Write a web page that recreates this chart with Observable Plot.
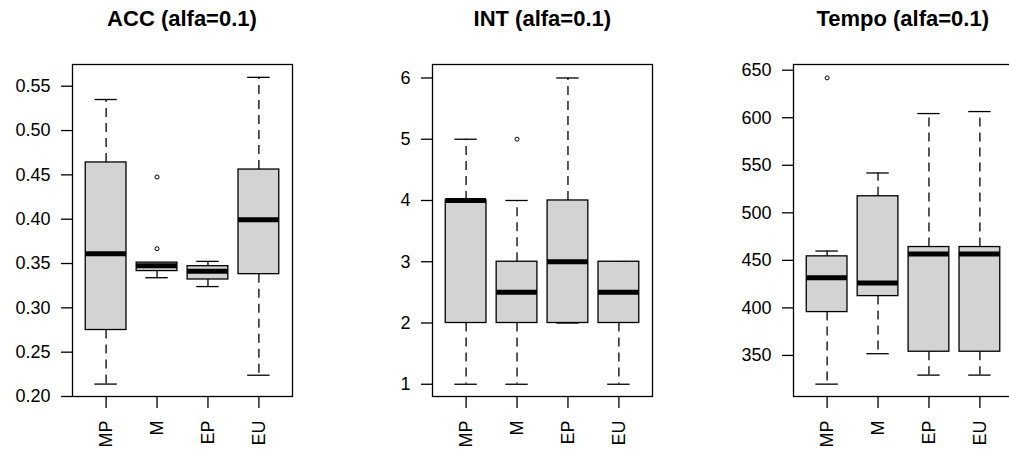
<!DOCTYPE html>
<html><head><meta charset="utf-8">
<script src="https://cdn.jsdelivr.net/npm/d3@7"></script>
<script src="https://cdn.jsdelivr.net/npm/@observablehq/plot@0.6"></script>
<style>
html,body{margin:0;padding:0;background:#fff;overflow:hidden;width:1009px;height:451px;}
#chart{position:relative;width:1009px;height:451px;overflow:hidden;font-family:"Liberation Sans",Arial,sans-serif;}
.panel{position:absolute;top:0;}
.title{position:absolute;top:8px;width:300px;font-weight:bold;font-size:22px;line-height:22px;text-align:center;white-space:nowrap;color:#000;}
</style></head><body><div id="chart"></div>
<script>
const groups = ["MP", "M", "EP", "EU"];
const titles = ["ACC (alfa=0.1)", "INT (alfa=0.1)", "Tempo (alfa=0.1)"];

// ACC
const accLow  = [0.214, 0.334, 0.324, 0.224];
const accQ1   = [0.275, 0.3415, 0.332, 0.338];
const accMed  = [0.361, 0.3475, 0.3414, 0.3995];
const accQ3   = [0.464, 0.351, 0.347, 0.456];
const accHigh = [0.535, 0.351, 0.3524, 0.560];
const accOutGroup = ["M", "M"];
const accOutValue = [0.4476, 0.3667];
const accTicks = [0.20, 0.25, 0.30, 0.35, 0.40, 0.45, 0.50, 0.55];

// INT
const intLow  = [1, 1, 2, 1];
const intQ1   = [2, 2, 2, 2];
const intMed  = [4, 2.5, 3, 2.5];
const intQ3   = [4, 3, 4, 3];
const intHigh = [5, 4, 6, 3];
const intOutGroup = ["M"];
const intOutValue = [5];
const intTicks = [1, 2, 3, 4, 5, 6];

// Tempo
const tempoLow  = [319.8, 351.8, 329.3, 329.3];
const tempoQ1   = [395.6, 412.4, 353.9, 353.9];
const tempoMed  = [431.8, 426.1, 456.7, 456.7];
const tempoQ3   = [454.2, 517.4, 464.0, 464.0];
const tempoHigh = [459.8, 541.9, 604.4, 606.5];
const tempoOutGroup = ["MP"];
const tempoOutValue = [641.9];
const tempoTicks = [350, 400, 450, 500, 550, 600, 650];

const panels = [
  {low: accLow, q1: accQ1, med: accMed, q3: accQ3, high: accHigh, og: accOutGroup, ov: accOutValue, ticks: accTicks, domain: [0.2, 0.5745], fmt: ".2f", frameLeft: 72},
  {low: intLow, q1: intQ1, med: intMed, q3: intQ3, high: intHigh, og: intOutGroup, ov: intOutValue, ticks: intTicks, domain: [0.8, 6.22], fmt: "d", frameLeft: 432.3},
  {low: tempoLow, q1: tempoQ1, med: tempoMed, q3: tempoQ3, high: tempoHigh, og: tempoOutGroup, ov: tempoOutValue, ticks: tempoTicks, domain: [306.8, 656], fmt: "d", frameLeft: 792.7}
];

const chart = document.getElementById("chart");
const ML = 72, MR = 68, PW = 220;

panels.forEach((p, i) => {
  const data = groups.map((g, k) => ({pos: k + 1, low: p.low[k], q1: p.q1[k], med: p.med[k], q3: p.q3[k], high: p.high[k]}));
  const outs = p.og.map((g, k) => ({pos: groups.indexOf(g) + 1, v: p.ov[k]}));
  const fmt = d3.format(p.fmt);
  const svg = Plot.plot({
    width: ML + PW + MR, height: 451,
    marginLeft: ML, marginRight: MR, marginTop: 64, marginBottom: 55,
    style: {fontFamily: "Liberation Sans, Arial, sans-serif", fontSize: "18px", color: "#000", background: "transparent", overflow: "visible"},
    x: {domain: [0.34, 4.66]},
    y: {domain: p.domain},
    marks: [
      Plot.ruleX(data, {x: "pos", y1: "q3", y2: "high", stroke: "#000", strokeWidth: 1.3, strokeDasharray: "9,6"}),
      Plot.ruleX(data, {x: "pos", y1: "q1", y2: "low", stroke: "#000", strokeWidth: 1.3, strokeDasharray: "9,6"}),
      Plot.ruleY(data, {y: "high", x1: d => d.pos - 0.22, x2: d => d.pos + 0.22, stroke: "#000", strokeWidth: 1.3}),
      Plot.ruleY(data, {y: "low", x1: d => d.pos - 0.22, x2: d => d.pos + 0.22, stroke: "#000", strokeWidth: 1.3}),
      Plot.rect(data, {x1: d => d.pos - 0.4, x2: d => d.pos + 0.4, y1: "q1", y2: "q3", fill: "#d3d3d3", stroke: "#000", strokeWidth: 1.3}),
      Plot.ruleY(data, {y: "med", x1: d => d.pos - 0.4, x2: d => d.pos + 0.4, stroke: "#000", strokeWidth: 5}),
      Plot.dot(outs, {x: "pos", y: "v", r: 2, stroke: "#000", strokeWidth: 1, fill: "none"}),
      Plot.frame({stroke: "#000", strokeWidth: 1.3}),
      Plot.axisY({ticks: p.ticks, tickFormat: fmt, tickSize: 11, tickPadding: 11, label: null, stroke: "#000", strokeWidth: 1.3}),
      Plot.axisX({ticks: [1, 2, 3, 4], tickFormat: d => groups[d - 1], tickRotate: -90, tickSize: 12, tickPadding: 12, label: null, stroke: "#000", strokeWidth: 1.3})
    ]
  });
  svg.classList.add("panel");
  svg.style.left = (p.frameLeft - ML) + "px";
  chart.appendChild(svg);
  const t = document.createElement("div");
  t.className = "title";
  t.textContent = titles[i];
  t.style.left = (p.frameLeft + PW / 2 - 150) + "px";
  chart.appendChild(t);
});
</script>
</body></html>
